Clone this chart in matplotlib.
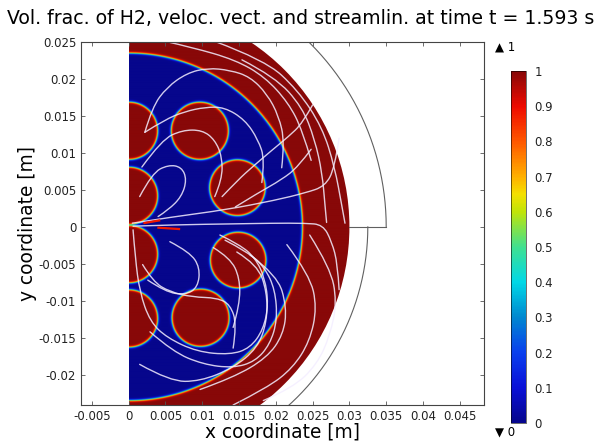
import matplotlib
matplotlib.use("Agg")
import matplotlib.pyplot as plt
import numpy as np
from matplotlib.colors import LinearSegmentedColormap
from matplotlib.path import Path
from matplotlib.patches import PathPatch, Circle

# Geometry (mm)
inner_radius = 23.5      # edge of the blue (liquid) core
outer_radius = 30.0      # edge of the coloured domain
wall_upper_radius = 35.0
wall_lower_radius = 32.5

bubble_x = [0.0, 0.0, 0.0, 0.0, 9.6, 14.7, 14.8, 9.7]
bubble_y = [13.0, 4.2, -3.7, -12.4, 13.0, 5.3, -4.5, -12.3]
bubble_r = [3.9, 3.9, 3.9, 3.9, 3.9, 3.8, 3.8, 3.9]

# streamlines (mm), traced by eye
stream_upper_blue = [
    [(2.2, 12.8), (3.2, 16.2), (5.2, 18.9), (7.9, 20.8), (10.7, 21.5), (13.8, 21.2),
     (16.5, 20.3), (18.8, 18.0), (20.4, 15.0), (21.2, 11.5), (20.8, 8.0)],
    [(2.2, 12.8), (4.9, 14.5), (7.6, 15.6), (10.4, 16.2), (13.0, 16.2), (15.8, 14.5),
     (17.6, 11.8), (18.5, 9.1), (18.1, 6.0)],
    [(1.8, 8.1), (4.5, 11.8), (7.3, 13.1), (10.0, 13.1), (11.7, 11.8), (12.7, 9.5),
     (12.7, 6.4), (11.7, 4.1)],
    [(1.5, 4.1), (3.2, 7.3), (5.4, 8.4), (7.2, 8.1), (7.9, 6.4), (7.2, 4.1),
     (5.4, 2.3), (4.0, 1.4)],
    [(0.5, 0.5), (6.3, 1.4), (13.1, 2.3), (19.9, 3.6), (24.0, 4.6), (26.7, 5.5),
     (28.0, 8.0), (28.6, 12.0)],
    [(12.7, 4.1), (14.9, 6.4), (16.8, 8.1), (19.5, 10.4), (21.7, 12.2), (23.6, 14.0),
     (25.0, 16.5)],
    [(14.5, 2.7), (17.6, 4.6), (20.8, 6.4), (23.0, 8.1), (24.8, 10.5)],
]
stream_upper_red = [
    [(11.7, 25.1), (18.5, 22.6), (23.0, 18.5), (26.3, 13.5), (28.0, 8.1), (29.0, 2.7),
     (29.4, 0.5)],
    [(15.4, 22.6), (19.9, 20.3), (23.6, 16.2), (25.3, 11.8), (26.3, 7.3), (26.7, 2.7),
     (26.9, 0.6)],
    [(5.0, 25.1), (8.6, 24.3), (14.5, 22.6), (18.5, 20.3), (21.7, 16.8), (23.6, 13.1),
     (24.8, 9.0)],
]
stream_lower_blue = [
    [(0.6, -0.4), (0.9, -4.2), (1.5, -8.8), (2.9, -12.8), (5.2, -15.0), (9.3, -16.9),
     (13.8, -17.3), (16.5, -16.4), (18.3, -13.9), (19.0, -10.5), (18.5, -6.9),
     (17.2, -4.2), (15.1, -2.4), (12.4, -1.1)],
    [(5.6, -2.0), (8.3, -3.4), (9.7, -5.5), (9.4, -8.2), (7.7, -9.2), (5.0, -8.8),
     (2.6, -7.2)],
    [(1.9, -5.1), (3.3, -7.4), (5.6, -8.8), (8.7, -9.5), (12.0, -9.6), (13.8, -10.5),
     (14.7, -13.2), (14.2, -16.4)],
    [(2.9, -14.2), (6.0, -16.9), (10.1, -18.6), (14.2, -19.1), (17.2, -18.2),
     (19.2, -15.9), (20.2, -12.6), (19.9, -8.5), (18.5, -5.5), (16.2, -3.4), (13.1, -1.8)],
    [(0.6, 0.1), (7.0, 0.3), (13.8, 0.4), (19.6, 0.5), (24.0, 0.5), (26.4, 0.3),
     (27.6, -2.0), (28.4, -5.0), (28.6, -8.5)],
    [(14.7, -3.4), (17.5, -5.1), (18.8, -8.8), (18.8, -12.8), (17.5, -16.4),
     (14.2, -19.1), (9.7, -20.9), (5.6, -20.9), (1.5, -18.6)],
    [(11.5, -2.8), (13.8, -4.2), (15.1, -6.9), (15.1, -10.5), (14.2, -13.6)],
]
stream_lower_red = [
    [(16.5, -3.8), (20.2, -6.5), (21.5, -10.9), (21.0, -14.6), (18.8, -17.7),
     (14.2, -20.4), (9.7, -22.0)],
    [(21.5, -2.4), (24.6, -6.5), (25.6, -10.9), (24.6, -15.5), (22.3, -19.1),
     (18.8, -21.8), (14.2, -24.1)],
    [(24.6, -1.1), (27.4, -5.5), (28.3, -10.1), (27.4, -14.6), (25.6, -18.6),
     (22.3, -21.8), (18.3, -23.5)],
]
jet_streaks = [[(2.0, 0.5), (4.3, 0.9)], [(3.9, -0.1), (7.0, -0.3)]]

title = "Vol. frac. of H2, veloc. vect. and streamlin. at time t = 1.593 s"
x_ticks = [-0.005, 0, 0.005, 0.01, 0.015, 0.02, 0.025, 0.03, 0.035, 0.04, 0.045]
y_ticks = [-0.02, -0.015, -0.01, -0.005, 0, 0.005, 0.01, 0.015, 0.02, 0.025]
cbar_ticks = [0, 0.1, 0.2, 0.3, 0.4, 0.5, 0.6, 0.7, 0.8, 0.9, 1]

# COMSOL-like rainbow, colours picked from the colour legend
rainbow_stops = [0.0, 0.1, 0.2, 0.3, 0.4, 0.5, 0.6, 0.65, 0.7, 0.8, 0.9, 1.0]
rainbow_colors = ["#06068c", "#0a10d8", "#0a40ee", "#0088d0", "#00d8e6", "#40e090",
                  "#c0e408", "#f4e000", "#ffb000", "#ff5800", "#ee0a00", "#880808"]
cmap = LinearSegmentedColormap.from_list("rainbow", list(zip(rainbow_stops, rainbow_colors)))

mm = 1e-3


def smooth_line(points, **kw):
    # quadratic B-spline through the traced points (drawn by matplotlib's Path)
    p = np.array(points) * mm
    verts = [p[0]]
    codes = [Path.MOVETO]
    for i in range(1, len(p) - 1):
        end = p[-1] if i == len(p) - 2 else (p[i] + p[i + 1]) / 2
        verts += [p[i], end]
        codes += [Path.CURVE3, Path.CURVE3]
    if len(p) == 2:
        verts.append(p[1])
        codes.append(Path.LINETO)
    return PathPatch(Path(verts, codes), fill=False, **kw)


# volume fraction field from the geometry, smooth interface
xs = np.linspace(0, outer_radius + 0.5, 900)
ys = np.linspace(-outer_radius, outer_radius, 1700)
X, Y = np.meshgrid(xs, ys)
dist = np.hypot(X, Y) - inner_radius
for bx, by, br in zip(bubble_x, bubble_y, bubble_r):
    dist = np.maximum(dist, br - np.hypot(X - bx, Y - by))
frac = 0.5 * (1 + np.tanh(dist / 0.17))

fig = plt.figure(figsize=(5.98, 4.42), dpi=100)
ax = fig.add_axes([0.1355, 0.0837, 0.674, 0.821])

im = ax.imshow(frac, cmap=cmap, vmin=0, vmax=1, origin="lower", interpolation="bilinear",
               extent=(0, xs[-1] * mm, ys[0] * mm, ys[-1] * mm), aspect="auto")
im.set_clip_path(Circle((0, 0), outer_radius * mm, transform=ax.transData))

for group in (stream_upper_blue, stream_upper_red, stream_lower_blue, stream_lower_red):
    for line in group:
        ax.add_patch(smooth_line(line, edgecolor="#f4eeff", lw=1.0, alpha=0.85,
                                 capstyle="round"))
for streak in jet_streaks:
    ax.add_patch(smooth_line(streak, edgecolor=cmap(0.88), lw=1.6))

# outer walls
t = np.linspace(0, np.pi / 2, 200)
ax.plot(wall_upper_radius * np.cos(t) * mm, wall_upper_radius * np.sin(t) * mm,
        color="#606060", lw=0.8)
ax.plot(wall_lower_radius * np.cos(t) * mm, -wall_lower_radius * np.sin(t) * mm,
        color="#606060", lw=0.8)
ax.plot([outer_radius * mm, wall_upper_radius * mm], [0, 0], color="#606060", lw=0.8)

ax.set_xlim(-0.00647, 0.0483)
ax.set_ylim(-0.0241, 0.025)
ax.set_xticks(x_ticks)
ax.set_xticklabels([f"{v:g}" for v in x_ticks])
ax.set_yticks(y_ticks)
ax.set_yticklabels([f"{v:g}" for v in y_ticks])
ax.tick_params(direction="in", length=3, width=0.6, colors="#555555",
               labelcolor="#222222", labelsize=8.5, top=True, right=True)
for sp in ax.spines.values():
    sp.set_color("#444444")
    sp.set_linewidth(0.8)
ax.set_xlabel("x coordinate [m]", fontsize=13.4, labelpad=0)
ax.set_ylabel("y coordinate [m]", fontsize=13.4, labelpad=1)
fig.text(0.503, 0.958, title, ha="center", va="center", fontsize=13.6)

cax = fig.add_axes([0.8545, 0.043, 0.0251, 0.7964])
cb = fig.colorbar(im, cax=cax, ticks=cbar_ticks)
cb.ax.set_yticklabels([f"{v:g}" for v in cbar_ticks])
cb.ax.tick_params(length=0, labelsize=8.5, labelcolor="#222222", pad=6)
cb.outline.set_linewidth(0.4)
fig.text(0.828, 0.893, "\u25B2 1", fontsize=8.5, va="center")
fig.text(0.828, 0.022, "\u25BC 0", fontsize=8.5, va="center")

fig.savefig("out.png", dpi=100)
